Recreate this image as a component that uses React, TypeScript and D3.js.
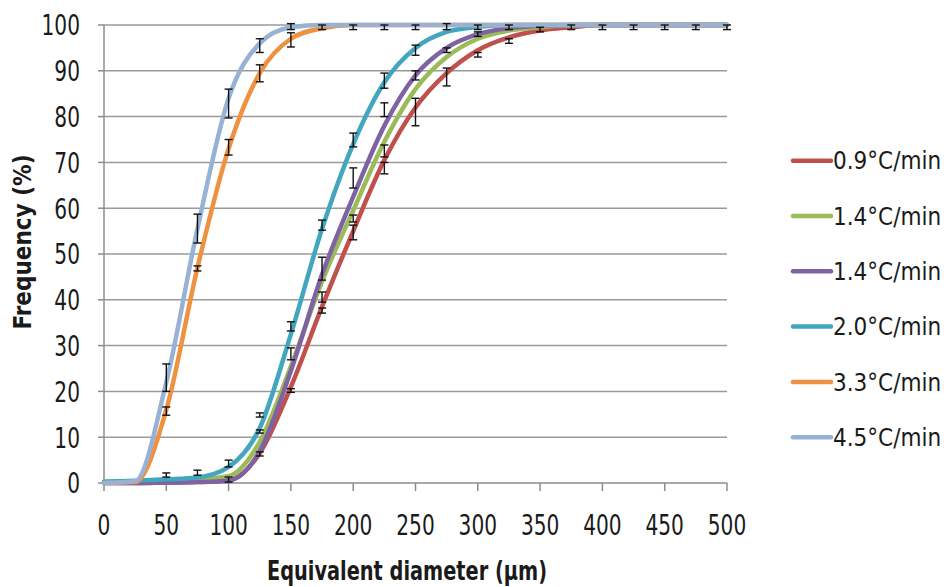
import React from "react";
import * as d3 from "d3";

const xs = [0, 25, 50, 75, 100, 125, 150, 175, 200, 225, 250, 275, 300, 325, 350, 375, 400, 425, 450, 475, 500];

const seriesNames = ["0.9°C/min", "1.4°C/min", "1.4°C/min", "2.0°C/min", "3.3°C/min", "4.5°C/min"];
const seriesColors = ["#C0504D", "#9BBB59", "#7F62A1", "#42A6BE", "#EE9140", "#98B2D6"];

const red09 = [0, 0, 0.1, 0.2, 0.6, 6.5, 21, 38.5, 55, 70.5, 82, 89.5, 94.5, 97.3, 98.8, 99.5, 100, 100, 100, 100, 100];
const green14 = [0.3, 0.4, 0.5, 0.8, 1.5, 9, 25.5, 44, 59.5, 74.5, 86, 93, 97, 98.8, 99.5, 100, 100, 100, 100, 100, 100];
const purple14 = [0, 0, 0.1, 0.2, 0.5, 7, 24.5, 45.5, 62.5, 78, 89, 95, 98, 99.3, 99.8, 100, 100, 100, 100, 100, 100];
const teal20 = [0.3, 0.5, 0.8, 1.2, 3.5, 12, 32.5, 55.5, 74, 87.5, 95, 98.5, 99.6, 100, 100, 100, 100, 100, 100, 100, 100];
const orange33 = [0, 0.2, 16, 47, 73, 89.5, 97, 99.3, 100, 100, 100, 100, 100, 100, 100, 100, 100, 100, 100, 100, 100];
const blue45 = [0, 0.4, 22, 55.5, 84, 96, 99.5, 100, 100, 100, 100, 100, 100, 100, 100, 100, 100, 100, 100, 100, 100];

const seriesValues = [red09, green14, purple14, teal20, orange33, blue45];

// error bars: [x, low, high]
const errorBars: [number, number, number][] = [
  [50, 20, 26], [75, 52.4, 58.7], [100, 79.7, 86], [125, 94, 97], [150, 99, 100.3],
  [50, 14.8, 16.6], [75, 46.3, 47.4], [100, 71.6, 75], [125, 87.6, 91.3], [150, 95.2, 98.3],
  [50, 1.3, 2.2], [75, 1.7, 2.8], [100, 3.5, 5], [100, 0.2, 1.3],
  [125, 14.4, 15.3], [125, 10.9, 11.6], [125, 5.9, 6.8],
  [150, 33.2, 35.2], [150, 26.9, 29.5], [150, 19.8, 20.6],
  [175, 55.2, 57.4], [175, 44.3, 49.3], [175, 39.5, 41.7], [175, 37.1, 38.2],
  [200, 73.4, 76.4], [200, 64.4, 68.8], [200, 57, 58.5], [200, 53.1, 56.3],
  [225, 86.2, 89.5], [225, 80, 83], [225, 71.2, 73.8], [225, 67.5, 70],
  [250, 93.4, 95.6], [250, 88, 90], [250, 78, 84],
  [275, 94, 95], [275, 86.7, 90.6],
  [300, 97.5, 98.5], [300, 93, 94], [325, 96, 97],
  [175, 99, 100], [200, 99, 100], [225, 99, 100], [250, 99, 100], [275, 99, 100.3],
  [300, 99, 100], [325, 99, 100], [350, 98.5, 99.5], [375, 99, 100], [400, 99, 100],
  [425, 99, 100], [450, 99, 100], [475, 99, 100], [500, 99, 100],
];

const xTicks = [0, 50, 100, 150, 200, 250, 300, 350, 400, 450, 500];
const yTicks = [0, 10, 20, 30, 40, 50, 60, 70, 80, 90, 100];

const FONT = "'DejaVu Sans Condensed', 'Liberation Sans Narrow', 'Open Sans', sans-serif";
const TXT = "#1a1a1a";

export default function App() {
  const W = 944, H = 587;
  const x = d3.scaleLinear().domain([0, 500]).range([104, 727]);
  const y = d3.scaleLinear().domain([0, 100]).range([483, 25]);
  const line = d3
    .line<number>()
    .x((_, i) => x(xs[i]))
    .y((d) => y(d))
    .curve(d3.curveMonotoneX);

  return (
    <svg width={W} height={H} style={{ position: "absolute", left: 0, top: 0, background: "#fff" }} fontFamily={FONT}>
      {/* grid */}
      {yTicks.slice(1).map((t) => (
        <line key={"g" + t} x1={x(0)} x2={x(500)} y1={y(t)} y2={y(t)} stroke="#9a9a9a" strokeWidth={1.5} />
      ))}
      {/* axes */}
      <line x1={x(0)} x2={x(0)} y1={y(0)} y2={y(100)} stroke="#8c8c8c" strokeWidth={1.5} />
      <line x1={x(0)} x2={x(500)} y1={y(0)} y2={y(0)} stroke="#8c8c8c" strokeWidth={1.5} />
      {yTicks.map((t) => (
        <g key={"y" + t}>
          <line x1={x(0) - 6} x2={x(0)} y1={y(t)} y2={y(t)} stroke="#8c8c8c" strokeWidth={1.5} />
          <text transform={`translate(80,${y(t) + 10.4}) scale(1,1.27)`} textAnchor="end" fontSize={22.4} fill={TXT}>
            {t}
          </text>
        </g>
      ))}
      {xTicks.map((t) => (
        <g key={"x" + t}>
          <line x1={x(t)} x2={x(t)} y1={y(0)} y2={y(0) + 8} stroke="#8c8c8c" strokeWidth={1.5} />
          <text transform={`translate(${x(t)},535) scale(1,1.27)`} textAnchor="middle" fontSize={22.4} fill={TXT}>
            {t}
          </text>
        </g>
      ))}
      {/* series */}
      {seriesValues.map((vals, i) => (
        <path key={"s" + i} d={line(vals) || ""} fill="none" stroke={seriesColors[i]} strokeWidth={4.5} strokeLinejoin="round" strokeLinecap="round" />
      ))}
      {/* error bars */}
      {errorBars.map(([xv, lo, hi], i) => (
        <g key={"e" + i} stroke="#111" strokeWidth={1.4}>
          <line x1={x(xv)} x2={x(xv)} y1={y(lo)} y2={y(hi)} />
          <line x1={x(xv) - 4} x2={x(xv) + 4} y1={y(lo)} y2={y(lo)} />
          <line x1={x(xv) - 4} x2={x(xv) + 4} y1={y(hi)} y2={y(hi)} />
        </g>
      ))}
      {/* axis titles */}
      <text transform="translate(407,580) scale(1,1.2)" textAnchor="middle" fontSize={21.5} fontWeight="bold" fill={TXT}>
        Equivalent diameter (µm)
      </text>
      <text transform="translate(31,242) rotate(-90)" textAnchor="middle" fontSize={24} fontWeight="bold" fill={TXT}>
        Frequency (%)
      </text>
      {/* legend */}
      {seriesNames.map((n, i) => {
        const ly = 160.7 + i * 55.3;
        return (
          <g key={"l" + i}>
            <line x1={793} x2={831} y1={ly} y2={ly} stroke={seriesColors[i]} strokeWidth={4.5} strokeLinecap="round" />
            <text x={833} y={ly} dy="0.36em" fontSize={24} fill={TXT}>
              {n}
            </text>
          </g>
        );
      })}
    </svg>
  );
}
